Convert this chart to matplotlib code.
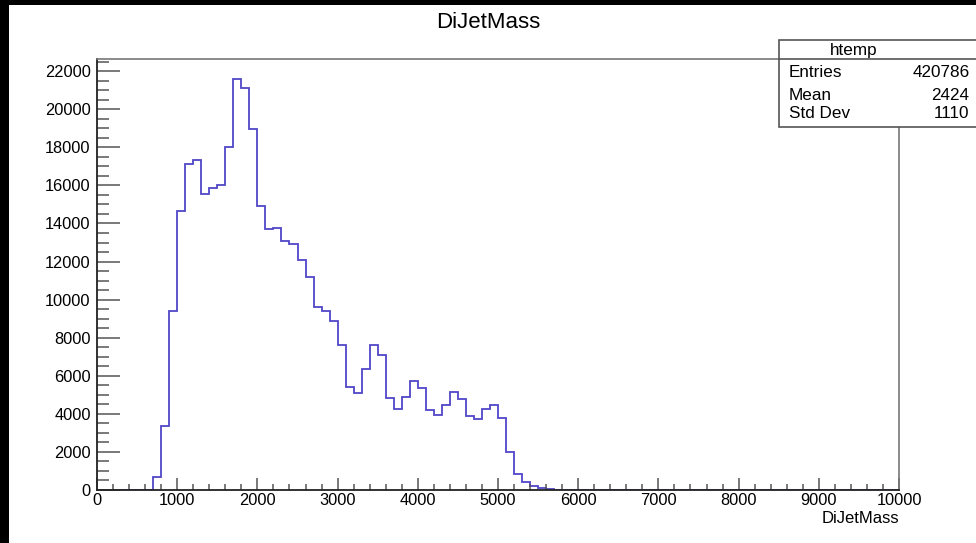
import numpy as np
import matplotlib
matplotlib.use('Agg')
import matplotlib.pyplot as plt
from matplotlib.patches import Rectangle
from matplotlib.ticker import MultipleLocator

plt.rcParams['font.family'] = ['Liberation Sans', 'DejaVu Sans']

# histogram contents, 100 bins of width 100 from 0 to 10000
bin_edges = np.arange(0, 10001, 100)
counts = np.zeros(100)
filled = [672, 3388, 9377, 14630, 17115, 17325, 15540, 15875, 16033, 18029,
          21565, 21128, 18975, 14930, 13700, 13753, 13091, 12933, 12093, 11200,
          9603, 9377, 8867, 7591, 5400, 5085, 6346, 7628, 7102, 4843,
          4266, 4875, 5700, 5369, 4213, 3929, 4491, 5138, 4754, 3861,
          3704, 4266, 4491, 3772, 1986, 851, 410, 220, 95, 50, 25]
counts[7:7 + len(filled)] = filled

stats_names = ['Entries', 'Mean', 'Std Dev']
stats_values = ['420786', '2424', '1110']

fig = plt.figure(figsize=(9.76, 5.43), dpi=100)
ax = fig.add_axes([97/976, 53/543, 802/976, 431/543])

ax.stairs(counts, bin_edges, color='#5046c8', lw=1.3)

ax.set_xlim(0, 10000)
ax.set_ylim(0, 22640)
ax.xaxis.set_major_locator(MultipleLocator(1000))
ax.xaxis.set_minor_locator(MultipleLocator(200))
ax.yaxis.set_major_locator(MultipleLocator(2000))
ax.yaxis.set_minor_locator(MultipleLocator(500))
ax.tick_params(axis='x', which='major', direction='in', length=8.6, width=1.1,
               color='#555555', labelsize=11.8, pad=2.5, top=False)
ax.tick_params(axis='x', which='minor', direction='in', length=4.3, width=1.1,
               color='#555555', top=False)
ax.tick_params(axis='y', which='major', direction='in', length=16.6, width=1.1,
               color='#555555', labelsize=11.8, pad=4.5, right=False)
ax.tick_params(axis='y', which='minor', direction='in', length=8.3, width=1.1,
               color='#555555', right=False)

for s in ['bottom', 'left']:
    ax.spines[s].set_color('#222222')
    ax.spines[s].set_linewidth(1.3)
for s in ['top', 'right']:
    ax.spines[s].set_color('#777777')
    ax.spines[s].set_linewidth(1.2)

ax.set_xlabel('DiJetMass', fontsize=12, loc='right', labelpad=2)
fig.text(0.5, 1 - 23/543, 'DiJetMass', fontsize=16, ha='center', va='center')

# stats box
box = Rectangle((779/976, 1 - 126.7/543), 0.3, (126.7 - 40)/543,
                transform=fig.transFigure, facecolor='white', edgecolor='#555555',
                lw=1.2, zorder=5, clip_on=False)
fig.add_artist(box)
fig.add_artist(plt.Line2D([779/976, 1.0], [1 - 59/543, 1 - 59/543],
                          transform=fig.transFigure, color='#555555', lw=1.2, zorder=6))
fig.text(854/976, 1 - 50/543, 'htemp', fontsize=12.3, ha='center', va='center', zorder=7)
rows_y = [72.7, 95, 114]
for name, val, yy in zip(stats_names, stats_values, rows_y):
    fig.text(789/976, 1 - yy/543, name, fontsize=12.3, ha='left', va='center', zorder=7)
    fig.text(969.5/976, 1 - yy/543, val, fontsize=12.3, ha='right', va='center', zorder=7)

# black screenshot edges
fig.add_artist(Rectangle((0, 0), 9/976, 1, transform=fig.transFigure,
                         facecolor='black', edgecolor='none', zorder=10))
fig.add_artist(Rectangle((0, 1 - 5/543), 1, 5/543, transform=fig.transFigure,
                         facecolor='black', edgecolor='none', zorder=10))

fig.savefig('out.png', dpi=100)
